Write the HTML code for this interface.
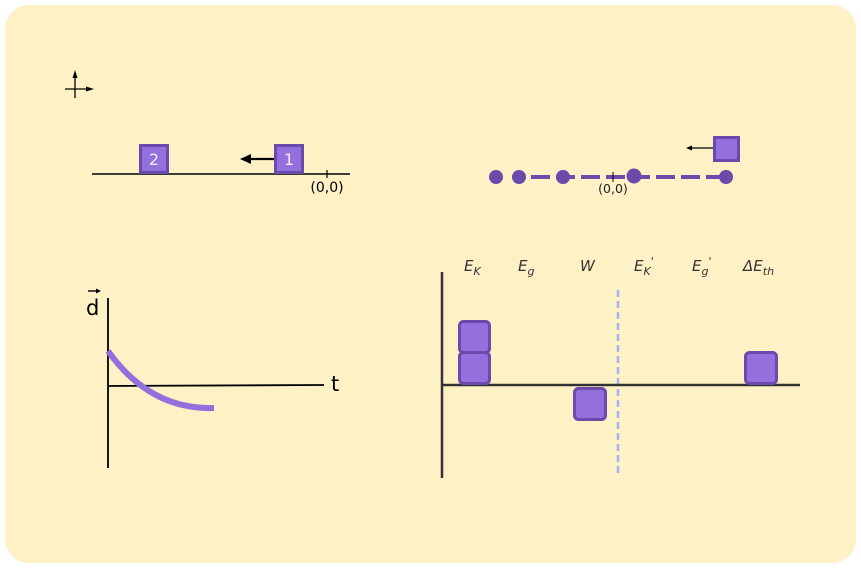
<!DOCTYPE html>
<html><head><style>
body{margin:0;background:#fff;}
svg{display:block;}
text{font-family:"DejaVu Sans","Liberation Sans",sans-serif;}
</style></head><body>
<svg width="861" height="568" viewBox="0 0 861 568" xmlns="http://www.w3.org/2000/svg">
<rect x="5" y="5" width="851" height="558" rx="24" fill="#fef1c6"/>
<!-- axes icon -->
<line x1="75" y1="73" x2="75" y2="98" stroke="#000" stroke-width="1.3"/>
<polygon points="75,70 72.5,78 77.5,78" fill="#000"/>
<line x1="65" y1="89" x2="88" y2="89" stroke="#000" stroke-width="1.3"/>
<polygon points="94,89 86,86.5 86,91.5" fill="#000"/>
<!-- top left scene -->
<line x1="92" y1="174" x2="350" y2="174" stroke="#000" stroke-width="1.5"/>
<line x1="327" y1="170" x2="327" y2="178" stroke="#000" stroke-width="1.2"/>
<text x="327" y="192" font-size="14" text-anchor="middle" fill="#000">(0,0)</text>
<rect x="140.5" y="145.5" width="27" height="27" fill="#9370db" stroke="#6a4aaa" stroke-width="3"/>
<text x="154" y="165" font-size="16" text-anchor="middle" fill="#f0ecff">2</text>
<rect x="275.5" y="145.5" width="27" height="27" fill="#9370db" stroke="#6a4aaa" stroke-width="3"/>
<text x="289" y="165" font-size="16" text-anchor="middle" fill="#f0ecff">1</text>
<line x1="250" y1="159" x2="274" y2="159" stroke="#000" stroke-width="2.2"/>
<polygon points="240,159 251,154 251,164" fill="#000"/>
<!-- top right dots -->
<line x1="531" y1="177" x2="726" y2="177" stroke="#6a4aaa" stroke-width="4" stroke-dasharray="19,6"/>
<rect x="519" y="172" width="12" height="10" fill="#fef1c6"/>
<circle cx="496" cy="177" r="7" fill="#6a4aaa"/>
<circle cx="519" cy="177" r="7" fill="#6a4aaa"/>
<circle cx="563" cy="177" r="7" fill="#6a4aaa"/>
<circle cx="634" cy="176" r="7.5" fill="#6a4aaa"/>
<circle cx="726" cy="177" r="7" fill="#6a4aaa"/>
<line x1="613" y1="172" x2="613" y2="182" stroke="#000" stroke-width="1"/>
<text x="613" y="193" font-size="12.5" text-anchor="middle" fill="#222">(0,0)</text>
<rect x="714.5" y="137.5" width="24" height="23" fill="#9370db" stroke="#6a4aaa" stroke-width="3"/>
<line x1="690" y1="148" x2="713" y2="148" stroke="#000" stroke-width="1.2"/>
<polygon points="686,148 692,145.5 692,150.5" fill="#000"/>
<!-- graph bottom left -->
<line x1="108" y1="298" x2="108" y2="468" stroke="#000" stroke-width="1.8"/>
<line x1="108" y1="386" x2="324" y2="385" stroke="#000" stroke-width="1.8"/>
<text x="331" y="391" font-size="21" fill="#000">t</text>
<text x="86" y="315" font-size="21" fill="#000">d</text>
<line x1="88" y1="291" x2="99" y2="291" stroke="#000" stroke-width="1.4"/>
<polygon points="101,291 96,288.5 96,293.5" fill="#000"/>
<path d="M108,351 Q150,410 214,408" fill="none" stroke="#9370db" stroke-width="6"/>
<!-- energy bar chart -->
<g font-size="15" font-style="italic" fill="#333">
<text x="464" y="271">E<tspan font-size="11" dy="4">K</tspan></text>
<text x="518" y="271">E<tspan font-size="11" dy="4">g</tspan></text>
<text x="580" y="271">W</text>
<text x="634" y="271">E<tspan font-size="11" dy="4">K</tspan><tspan dy="-10" font-size="11">'</tspan></text>
<text x="692" y="271">E<tspan font-size="11" dy="4">g</tspan><tspan dy="-10" font-size="11">'</tspan></text>
<text x="743" y="271">ΔE<tspan font-size="11" dy="4">th</tspan></text>
</g>
<line x1="618" y1="290" x2="618" y2="476" stroke="#aab0f4" stroke-width="2.5" stroke-dasharray="7,4"/>
<line x1="442" y1="272" x2="442" y2="478" stroke="#333" stroke-width="2.5"/>
<line x1="442" y1="385" x2="800" y2="385" stroke="#333" stroke-width="2.5"/>
<g fill="#9370db" stroke="#6a4aaa" stroke-width="3">
<rect x="459.5" y="321.5" width="30" height="31" rx="4"/>
<rect x="459.5" y="352.5" width="30" height="31" rx="4"/>
<rect x="574.5" y="388.5" width="31" height="31" rx="4"/>
<rect x="745.5" y="352.5" width="31" height="31" rx="4"/>
</g>
</svg>
</body></html>
